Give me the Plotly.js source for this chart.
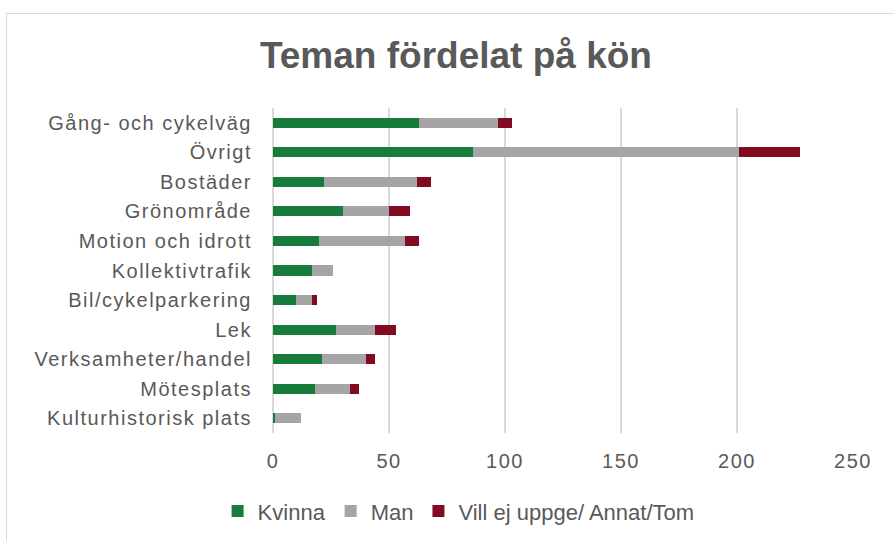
<!DOCTYPE html>
<html>
<head>
<meta charset="utf-8">
<script src="https://cdn.plot.ly/plotly-3.0.1.min.js"></script>
<style>
  html, body { margin: 0; padding: 0; background: #ffffff; }
  #chart { position: absolute; left: 0; top: 0; width: 894px; height: 541px; }
  #frame { position: absolute; left: 6px; top: 13px; width: 900px; height: 540px;
           border-top: 1px solid #d9d9d9; border-left: 1px solid #d9d9d9; pointer-events: none; }
  #chart .ytick text { letter-spacing: 1.5px; }
  #chart .xtick text { letter-spacing: 1.5px; }
</style>
</head>
<body>
<div id="chart"></div>
<div id="frame"></div>
<script>
const categories = [
  "Gång- och cykelväg",
  "Övrigt",
  "Bostäder",
  "Grönområde",
  "Motion och idrott",
  "Kollektivtrafik",
  "Bil/cykelparkering",
  "Lek",
  "Verksamheter/handel",
  "Mötesplats",
  "Kulturhistorisk plats"
];
const kvinna = [63, 86, 22, 30, 20, 17, 10, 27, 21, 18, 1];
const man    = [34, 115, 40, 20, 37, 9, 7, 17, 19, 15, 11];
const vill   = [6, 26, 6, 9, 6, 0, 2, 9, 4, 4, 0];
const seriesNames = ["Kvinna", "Man", "Vill ej uppge/ Annat/Tom"];
const xTicks = [0, 50, 100, 150, 200, 250];

const colors = ["#177B3C", "#A5A5A5", "#820B20"];
const fontFam = "Liberation Sans, Arial, sans-serif";
const textCol = "#595959";

const data = [kvinna, man, vill].map((vals, i) => ({
  type: "bar",
  orientation: "h",
  name: seriesNames[i],
  y: categories,
  x: vals,
  marker: { color: colors[i] },
  hoverinfo: "x+y+name"
}));

const layout = {
  width: 894,
  height: 541,
  paper_bgcolor: "#ffffff",
  plot_bgcolor: "#ffffff",
  barmode: "stack",
  bargap: 0.66,
  margin: { l: 273, r: 41, t: 108, b: 108, pad: 0 },
  title: {
    text: "<b>Teman fördelat på kön</b>",
    font: { family: fontFam, size: 37, color: textCol },
    x: 0.51, xanchor: "center", xref: "container",
    y: 0.898, yanchor: "middle", yref: "container"
  },
  xaxis: {
    range: [0, 250],
    tickvals: xTicks,
    ticktext: xTicks.map(String),
    showgrid: true,
    gridcolor: "#d9d9d9",
    gridwidth: 1.5,
    zeroline: true,
    zerolinecolor: "#d9d9d9",
    zerolinewidth: 1.5,
    showline: false,
    ticks: "",
    ticklabelstandoff: 14,
    tickfont: { family: fontFam, size: 20, color: textCol },
    fixedrange: true
  },
  yaxis: {
    autorange: "reversed",
    type: "category",
    showgrid: false,
    zeroline: false,
    showline: false,
    ticks: "",
    ticklabelstandoff: 20,
    tickfont: { family: fontFam, size: 20, color: textCol },
    fixedrange: true
  },
  legend: {
    orientation: "h",
    x: 0.513, xref: "container", xanchor: "center",
    y: 0.055, yref: "container", yanchor: "middle",
    font: { family: fontFam, size: 22, color: textCol },
    itemwidth: 30,
    traceorder: "normal",
    bgcolor: "rgba(0,0,0,0)"
  },
  showlegend: true
};

Plotly.newPlot("chart", data, layout, { displayModeBar: false, staticPlot: true });
</script>
</body>
</html>
